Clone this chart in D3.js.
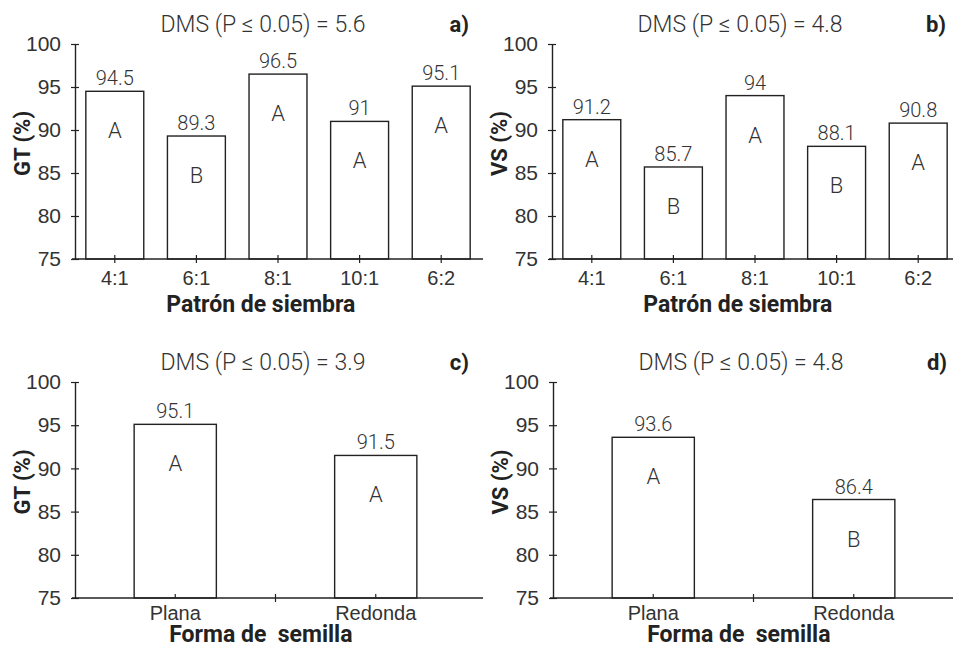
<!DOCTYPE html>
<html>
<head>
<meta charset="utf-8">
<script src="https://cdn.jsdelivr.net/npm/d3@7"></script>
<style>
    body { margin: 0; background: #fff; }
    svg { display: block; font-family: Roboto, "Noto Sans", sans-serif; }
    .light { font-weight: 300; fill: #333; }
    .bold { font-weight: 700; fill: #222; }
</style>
</head>
<body>
<div id="chart"></div>
<script>
// data
const patterns = ["4:1", "6:1", "8:1", "10:1", "6:2"];
const gtPattern = [94.5, 89.3, 96.5, 91, 95.1];
const gtPatternGroups = ["A", "B", "A", "A", "A"];
const vsPattern = [91.2, 85.7, 94, 88.1, 90.8];
const vsPatternGroups = ["A", "B", "A", "B", "A"];

const shapes = ["Plana", "Redonda"];
const gtShape = [95.1, 91.5];
const gtShapeGroups = ["A", "A"];
const vsShape = [93.6, 86.4];
const vsShapeGroups = ["A", "B"];

const dmsValues = ["5.6", "4.8", "3.9", "4.8"];
const panelLetters = ["a)", "b)", "c)", "d)"];
const yTitles = ["GT (%)", "VS (%)", "GT (%)", "VS (%)"];
const xTitles = ["Patrón de siembra", "Patrón de siembra", "Forma de  semilla", "Forma de  semilla"];
const yTicks = [75, 80, 85, 90, 95, 100];
const yDomain = [75, 100];

const width = 953, height = 648;
const lineColor = "#222";

// layout of the four panels
const panels = [
    {left: 75, top: 44, bottom: 259, cats: patterns, values: gtPattern, groups: gtPatternGroups, pad: 0.29, centerTicks: true, xTitleDy: 53},
    {left: 552, top: 44, bottom: 259, cats: patterns, values: vsPattern, groups: vsPatternGroups, pad: 0.29, centerTicks: true, xTitleDy: 53},
    {left: 75, top: 382, bottom: 598, cats: shapes, values: gtShape, groups: gtShapeGroups, pad: 0.59, centerTicks: false, xTitleDy: 44},
    {left: 553, top: 382, bottom: 598, cats: shapes, values: vsShape, groups: vsShapeGroups, pad: 0.59, centerTicks: false, xTitleDy: 44}
];
const plotWidth = 404;

const svg = d3.select("#chart").append("svg")
    .attr("width", width)
    .attr("height", height);

panels.forEach((p, i) => {
    const g = svg.append("g");

    const x = d3.scaleBand()
        .domain(p.cats)
        .range(p.cats.length > 2 ? [p.left - 1, p.left - 1 + 408] : [p.left, p.left + 401])
        .paddingInner(p.pad)
        .paddingOuter(p.pad / 2);

    const y = d3.scaleLinear()
        .domain(yDomain)
        .range([p.bottom, p.top]);

    // bars
    g.selectAll("rect.bar")
        .data(p.values)
        .enter()
        .append("rect")
        .attr("class", "bar")
        .attr("x", (d, j) => x(p.cats[j]))
        .attr("y", d => y(d))
        .attr("width", x.bandwidth())
        .attr("height", d => y(yDomain[0]) - y(d))
        .attr("fill", "#fff")
        .attr("stroke", lineColor)
        .attr("stroke-width", 1.4);

    // value labels
    g.selectAll("text.val")
        .data(p.values)
        .enter()
        .append("text")
        .attr("class", "val light")
        .attr("x", (d, j) => x(p.cats[j]) + x.bandwidth() / 2)
        .attr("y", d => y(d) - 6)
        .attr("text-anchor", "middle")
        .style("font-size", "20px")
        .text(d => d);

    // group letters
    g.selectAll("text.grp")
        .data(p.groups)
        .enter()
        .append("text")
        .attr("class", "grp light")
        .attr("x", (d, j) => x(p.cats[j]) + x.bandwidth() / 2)
        .attr("y", (d, j) => y(p.values[j]) + 47)
        .attr("text-anchor", "middle")
        .style("font-size", "22px")
        .text(d => d);

    // y axis
    const yAxis = g.append("g")
        .attr("transform", `translate(${p.left},0)`)
        .call(d3.axisLeft(y).tickValues(yTicks).tickSize(4).tickSizeOuter(0).tickPadding(10));
    yAxis.select(".domain").attr("stroke", lineColor).attr("stroke-width", 1.4);
    yAxis.selectAll(".tick line").attr("x1", 4).attr("stroke", lineColor).attr("stroke-width", 1.2);
    yAxis.selectAll(".tick text")
        .attr("class", "light")
        .style("font-size", "21px")
        .attr("fill", null);

    // x axis
    const xAxis = g.append("g")
        .attr("transform", `translate(0,${p.bottom})`)
        .call(d3.axisBottom(x).tickSize(p.centerTicks ? 4 : 0).tickSizeOuter(0));
    xAxis.select(".domain").remove();
    xAxis.append("line")
        .attr("x1", p.left - 3)
        .attr("x2", p.left + 408)
        .attr("stroke", lineColor)
        .attr("stroke-width", 1.4);
    xAxis.selectAll(".tick line").attr("y1", -4).attr("stroke", lineColor).attr("stroke-width", 1.2);
    xAxis.selectAll(".tick text")
        .attr("class", "light")
        .attr("dy", null)
        .attr("y", p.centerTicks ? 26 : 22)
        .style("font-size", "20px")
        .attr("fill", null);
    if (!p.centerTicks) {
        // tick at the boundary between the two bands
        x.domain().slice(1).forEach(c => {
            const bx = x(c) - x.step() * x.paddingInner() / 2;
            xAxis.append("line")
                .attr("x1", bx).attr("x2", bx)
                .attr("y1", -4).attr("y2", 4)
                .attr("stroke", lineColor)
                .attr("stroke-width", 1.2);
        });
    }

    // x axis title
    g.append("text")
        .attr("class", "bold")
        .attr("x", p.left + 0.46 * plotWidth)
        .attr("y", p.bottom + p.xTitleDy)
        .attr("text-anchor", "middle")
        .style("font-size", "23px")
        .style("white-space", "pre")
        .attr("xml:space", "preserve")
        .text(xTitles[i]);

    // y axis title
    g.append("text")
        .attr("class", "bold")
        .attr("transform", `translate(${p.left - 45},${(p.top + p.bottom) / 2 - 8}) rotate(-90)`)
        .attr("text-anchor", "middle")
        .style("font-size", "22px")
        .text(yTitles[i]);

    // DMS heading
    g.append("text")
        .attr("class", "light")
        .attr("x", p.left + 188)
        .attr("y", p.top - 12)
        .attr("text-anchor", "middle")
        .style("font-size", "23px")
        .text(`DMS (P ≤ 0.05) = ${dmsValues[i]}`);

    // panel letter
    g.append("text")
        .attr("class", "bold")
        .attr("x", p.left + 394)
        .attr("y", p.top - 12)
        .attr("text-anchor", "end")
        .style("font-size", "22px")
        .text(panelLetters[i]);
});
</script>
</body>
</html>
